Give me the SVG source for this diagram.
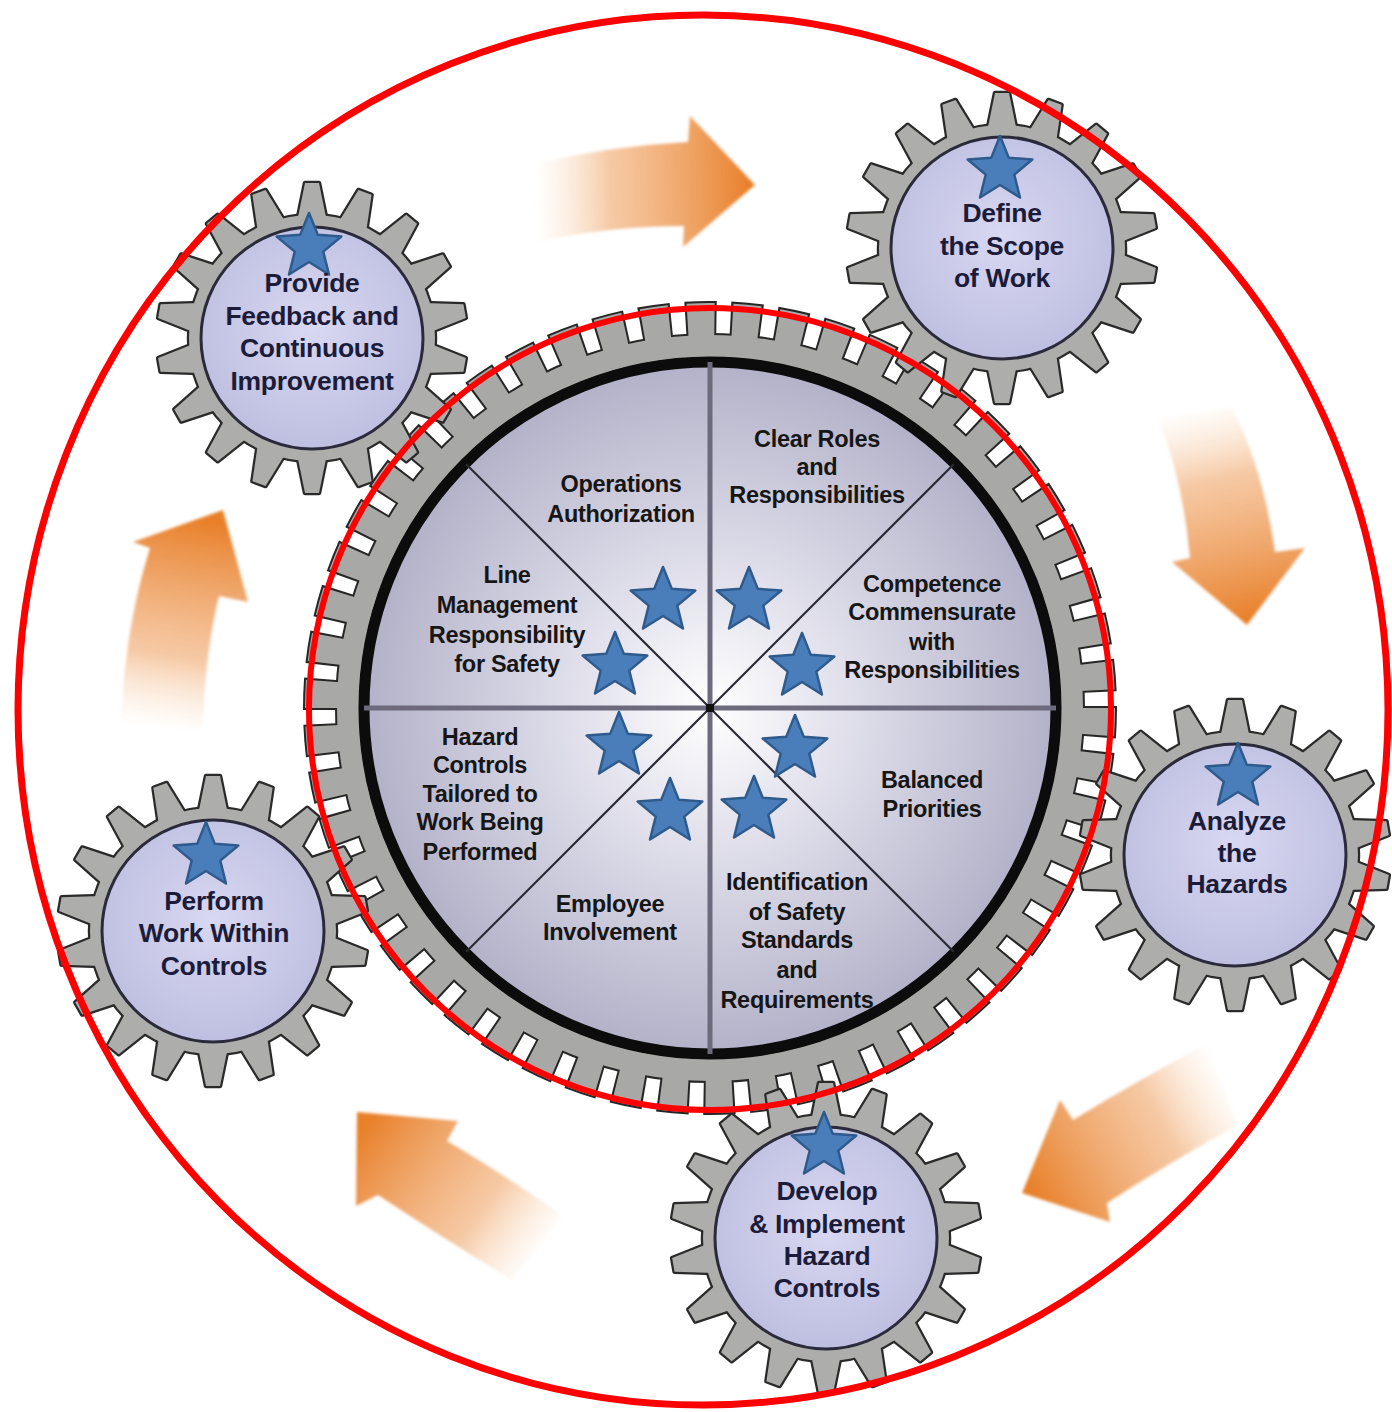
<svg xmlns="http://www.w3.org/2000/svg" xmlns:xlink="http://www.w3.org/1999/xlink" width="1392" height="1412" viewBox="0 0 1392 1412">
<style>
.t{font-family:"Liberation Sans",Arial,Helvetica,sans-serif;font-weight:bold;text-anchor:middle}
.sg{font-size:26.5px;fill:#1c1c3a;letter-spacing:-0.3px}
.cg{font-size:23.5px;fill:#161616;letter-spacing:-0.3px}
.star{fill:#4a7ebb;stroke:#2f5a8c;stroke-width:2.5;stroke-linejoin:round}
.red{fill:none;stroke:#ff0000}
</style>
<defs>
<radialGradient id="smallDisk" cx="0.5" cy="0.45" r="0.6">
<stop offset="0" stop-color="#d8d8f2"/>
<stop offset="1" stop-color="#bcbcdf"/>
</radialGradient>
<radialGradient id="bigDisk" cx="0.5" cy="0.5" r="0.5">
<stop offset="0" stop-color="#ffffff"/>
<stop offset="0.45" stop-color="#dcdbe8"/>
<stop offset="1" stop-color="#b3b1c8"/>
</radialGradient>
<linearGradient id="gA1" gradientUnits="userSpaceOnUse" x1="535" y1="190" x2="750" y2="185">
<stop offset="0" stop-color="#f8d6b4" stop-opacity="0"/>
<stop offset="0.35" stop-color="#f2b27e" stop-opacity="0.7"/>
<stop offset="1" stop-color="#e8802a"/>
</linearGradient>
<linearGradient id="gA2" gradientUnits="userSpaceOnUse" x1="1195" y1="405" x2="1245" y2="620">
<stop offset="0" stop-color="#f8d6b4" stop-opacity="0"/>
<stop offset="0.35" stop-color="#f2b27e" stop-opacity="0.7"/>
<stop offset="1" stop-color="#e8802a"/>
</linearGradient>
<linearGradient id="gA3" gradientUnits="userSpaceOnUse" x1="1230" y1="1080" x2="1030" y2="1190">
<stop offset="0" stop-color="#f8d6b4" stop-opacity="0"/>
<stop offset="0.35" stop-color="#f2b27e" stop-opacity="0.7"/>
<stop offset="1" stop-color="#e8802a"/>
</linearGradient>
<linearGradient id="gA4" gradientUnits="userSpaceOnUse" x1="545" y1="1255" x2="365" y2="1125">
<stop offset="0" stop-color="#f8d6b4" stop-opacity="0"/>
<stop offset="0.35" stop-color="#f2b27e" stop-opacity="0.7"/>
<stop offset="1" stop-color="#e8802a"/>
</linearGradient>
<linearGradient id="gA5" gradientUnits="userSpaceOnUse" x1="165" y1="730" x2="200" y2="520">
<stop offset="0" stop-color="#f8d6b4" stop-opacity="0"/>
<stop offset="0.35" stop-color="#f2b27e" stop-opacity="0.7"/>
<stop offset="1" stop-color="#e8802a"/>
</linearGradient>
<filter id="soft" x="-10%" y="-10%" width="120%" height="120%"><feGaussianBlur stdDeviation="1.6"/></filter>
<polygon id="starShape" class="star" points="0,-34 8.82,-12.14 32.34,-10.51 14.27,4.64 19.98,27.51 0,15 -19.98,27.51 -14.27,4.64 -32.34,-10.51 -8.82,-12.14"/>
<polygon id="tooth" points="-15,-116 -7,-155 7,-155 15,-116"/>
<g id="teeth18">
<use xlink:href="#tooth"/>
<use xlink:href="#tooth" transform="rotate(20)"/>
<use xlink:href="#tooth" transform="rotate(40)"/>
<use xlink:href="#tooth" transform="rotate(60)"/>
<use xlink:href="#tooth" transform="rotate(80)"/>
<use xlink:href="#tooth" transform="rotate(100)"/>
<use xlink:href="#tooth" transform="rotate(120)"/>
<use xlink:href="#tooth" transform="rotate(140)"/>
<use xlink:href="#tooth" transform="rotate(160)"/>
<use xlink:href="#tooth" transform="rotate(180)"/>
<use xlink:href="#tooth" transform="rotate(200)"/>
<use xlink:href="#tooth" transform="rotate(220)"/>
<use xlink:href="#tooth" transform="rotate(240)"/>
<use xlink:href="#tooth" transform="rotate(260)"/>
<use xlink:href="#tooth" transform="rotate(280)"/>
<use xlink:href="#tooth" transform="rotate(300)"/>
<use xlink:href="#tooth" transform="rotate(320)"/>
<use xlink:href="#tooth" transform="rotate(340)"/>
<circle r="123"/>
</g>
<g id="smallGear">
<use xlink:href="#teeth18" fill="#a9a9a9" stroke="#2a2a2a" stroke-width="4.5" stroke-linejoin="round"/>
<use xlink:href="#teeth18" fill="#adadab" stroke="none"/>
<circle r="111" fill="url(#smallDisk)" stroke="#2a2a3a" stroke-width="3"/>
</g>
</defs>
<rect width="1392" height="1412" fill="#ffffff"/>

<g id="connectors" filter="url(#soft)">
<path d="M535,164 Q610,146 688,142 L690,116 L755,185 L683,247 L684,226 Q610,226 535,242 Z" fill="url(#gA1)"/>
<path d="M1158,418 Q1183,480 1190,558 L1172,562 L1247,625 L1305,548 L1275,552 Q1263,468 1232,408 Z" fill="url(#gA2)"/>
<path d="M1205,1045 Q1135,1082 1073,1120 L1060,1100 L1022,1193 L1110,1222 L1107,1203 Q1170,1162 1238,1125 Z" fill="url(#gA3)"/>
<path d="M357,1112 L458,1121 L447,1141 Q500,1172 562,1215 L512,1280 Q440,1236 378,1195 L356,1206 Z" fill="url(#gA4)"/>
<path d="M223,510 L248,602 L219,596 Q205,652 203,728 L121,728 Q124,630 150,548 L133,542 Z" fill="url(#gA5)"/>
</g>

<g id="central-gear">
<circle cx="710" cy="708" r="388" fill="none" stroke="#262626" stroke-width="38" pathLength="5400" stroke-dasharray="69 31" stroke-dashoffset="4.5"/>
<circle cx="710" cy="708" r="362" fill="none" stroke="#262626" stroke-width="26"/>
<circle cx="710" cy="708" r="388" fill="none" stroke="#a8a8a6" stroke-width="34" pathLength="5400" stroke-dasharray="60 40"/>
<circle cx="710" cy="708" r="362" fill="none" stroke="#a8a8a6" stroke-width="22"/>
<circle cx="710" cy="708" r="346" fill="url(#bigDisk)" stroke="#0c0c0c" stroke-width="11"/>
<line x1="710" y1="362" x2="710" y2="1054" stroke="#6c6a7c" stroke-width="5"/>
<line x1="364" y1="708" x2="1056" y2="708" stroke="#6c6a7c" stroke-width="5"/>
<line x1="466" y1="464" x2="954" y2="952" stroke="#2a2a36" stroke-width="2.2"/>
<line x1="466" y1="952" x2="954" y2="464" stroke="#2a2a36" stroke-width="2.2"/>
<rect x="706" y="704" width="8" height="8" fill="#111"/>
<g class="t cg">
<text x="621" y="492">Operations</text>
<text x="621" y="522">Authorization</text>
<text x="507" y="583">Line</text>
<text x="507" y="613">Management</text>
<text x="507" y="643">Responsibility</text>
<text x="507" y="672">for Safety</text>
<text x="817" y="447">Clear Roles</text>
<text x="817" y="475">and</text>
<text x="817" y="503">Responsibilities</text>
<text x="932" y="592">Competence</text>
<text x="932" y="620">Commensurate</text>
<text x="932" y="650">with</text>
<text x="932" y="678">Responsibilities</text>
<text x="480" y="745">Hazard</text>
<text x="480" y="773">Controls</text>
<text x="480" y="802">Tailored to</text>
<text x="480" y="830">Work Being</text>
<text x="480" y="860">Performed</text>
<text x="610" y="912">Employee</text>
<text x="610" y="940">Involvement</text>
<text x="932" y="788">Balanced</text>
<text x="932" y="817">Priorities</text>
<text x="797" y="890">Identification</text>
<text x="797" y="920">of Safety</text>
<text x="797" y="948">Standards</text>
<text x="797" y="978">and</text>
<text x="797" y="1008">Requirements</text>
</g>
<use xlink:href="#starShape" x="663" y="601"/>
<use xlink:href="#starShape" x="749" y="601"/>
<use xlink:href="#starShape" x="615" y="666"/>
<use xlink:href="#starShape" x="802" y="667"/>
<use xlink:href="#starShape" x="619" y="746"/>
<use xlink:href="#starShape" x="795" y="749"/>
<use xlink:href="#starShape" x="670" y="812"/>
<use xlink:href="#starShape" x="754" y="810"/>
</g>

<g id="gear-define-scope">
<use xlink:href="#smallGear" transform="translate(1002,248)"/>
<use xlink:href="#starShape" x="1000" y="170"/>
<g class="t sg">
<text x="1002" y="222">Define</text>
<text x="1002" y="255">the Scope</text>
<text x="1002" y="287">of Work</text>
</g>
</g>

<g id="gear-analyze-hazards">
<use xlink:href="#smallGear" transform="translate(1235,855)"/>
<use xlink:href="#starShape" x="1238" y="777"/>
<g class="t sg">
<text x="1237" y="830">Analyze</text>
<text x="1237" y="862">the</text>
<text x="1237" y="893">Hazards</text>
</g>
</g>

<g id="gear-develop-controls">
<use xlink:href="#smallGear" transform="translate(826,1238)"/>
<use xlink:href="#starShape" x="824" y="1146"/>
<g class="t sg">
<text x="827" y="1200">Develop</text>
<text x="827" y="1233">&amp; Implement</text>
<text x="827" y="1265">Hazard</text>
<text x="827" y="1297">Controls</text>
</g>
</g>

<g id="gear-perform-work">
<use xlink:href="#smallGear" transform="translate(213,931)"/>
<use xlink:href="#starShape" x="206" y="856"/>
<g class="t sg">
<text x="214" y="910">Perform</text>
<text x="214" y="942">Work Within</text>
<text x="214" y="975">Controls</text>
</g>
</g>

<g id="gear-provide-feedback">
<use xlink:href="#smallGear" transform="translate(312,338)"/>
<use xlink:href="#starShape" x="309" y="247"/>
<g class="t sg">
<text x="312" y="292">Provide</text>
<text x="312" y="325">Feedback and</text>
<text x="312" y="357">Continuous</text>
<text x="312" y="390">Improvement</text>
</g>
</g>

<g id="red-rings">
<ellipse class="red" cx="703" cy="710" rx="685" ry="695" stroke-width="7"/>
<circle class="red" cx="710" cy="709" r="401" stroke-width="6"/>
</g>
</svg>
